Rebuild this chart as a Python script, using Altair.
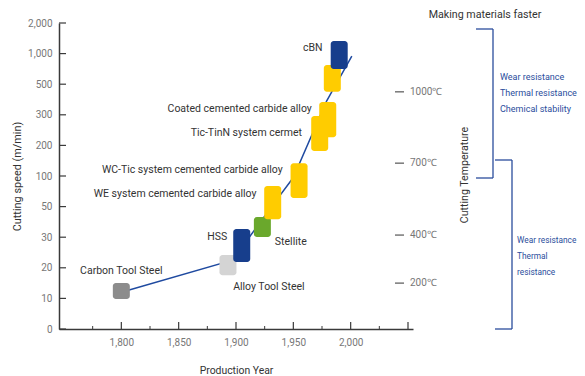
import altair as alt
import pandas as pd

# ---- data ----
materials = ["Carbon Tool Steel", "Alloy Tool Steel", "HSS", "Stellite",
             "WE system cemented carbide alloy", "WC-Tic system cemented carbide alloy",
             "Tic-TinN system cermet", "Coated cemented carbide alloy", "Ceramics", "cBN"]
years = [1800, 1893, 1905, 1923, 1932, 1955, 1973, 1980, 1984, 1990]
# cutting-speed ranges on the (ordinal-spaced) speed axis, in tick-index units
speed_lo = [0.98, 1.76, 2.19, 3.01, 3.59, 4.28, 5.82, 6.27, 7.75, 8.50]
speed_hi = [1.50, 2.42, 3.27, 3.66, 4.67, 5.42, 6.96, 7.42, 8.63, 9.41]
box_colors = ["#8c8c8c", "#d4d4d4", "#173e8c", "#6aa82c", "#ffcc00",
              "#ffcc00", "#ffcc00", "#ffcc00", "#ffcc00", "#173e8c"]

speed_labels = ["0", "10", "20", "30", "50", "100", "200", "300", "500", "1,000", "2,000"]
speed_index = list(range(len(speed_labels)))

major_years = [1800, 1850, 1900, 1950, 2000, 2050]
minor_years = [1775, 1825, 1875, 1925, 1975, 2025]
label_years = [1800, 1850, 1900, 1950, 2000]

line_years = [1800, 1897, 1932, 1950, 1979, 2001]
line_speed = [1.2, 2.25, 4.05, 4.95, 7.45, 8.92]

temp_labels = ["200℃", "400℃", "700℃", "1000℃"]
temp_pos = [1.5, 3.07, 5.42, 7.75]

# material name labels: anchor (year, speed index) and alignment
lab_text = ["Carbon Tool Steel", "Alloy Tool Steel", "HSS", "Stellite",
            "WE system cemented carbide alloy", "WC-Tic system cemented carbide alloy",
            "Tic-TinN system cermet", "Coated cemented carbide alloy", "cBN"]
lab_year = [1800, 1897.5, 1892.4, 1933.9, 1917.8, 1940.7, 1957.6, 1966.1, 1975.4]
lab_speed = [1.90, 1.37, 3.01, 2.84, 4.41, 5.20, 6.41, 7.19, 9.18]
lab_align = ["center", "left", "right", "left", "right", "right", "right", "right", "right"]

FONT = "Roboto"
W, H = 354, 306

boxes = pd.DataFrame({"material": materials, "year": years, "lo": speed_lo,
                      "hi": speed_hi, "color": box_colors,
                      "order": list(range(len(materials)))})
line_df = pd.DataFrame({"year": line_years, "speed": line_speed})
labels_df = pd.DataFrame({"text": lab_text, "year": lab_year, "speed": lab_speed, "align": lab_align})
temp_df = pd.DataFrame({"t": temp_labels, "speed": temp_pos})
ytick_df = pd.DataFrame({"speed": speed_index})
major_df = pd.DataFrame({"year": major_years})
minor_df = pd.DataFrame({"year": minor_years})
one = pd.DataFrame({"a": [0]})

xscale = alt.Scale(domain=[1750, 2050], nice=False, zero=False)
yscale = alt.Scale(domain=[0, 10], nice=False, zero=False)

label_expr = "[" + ",".join("'%s'" % s for s in speed_labels) + "][datum.value]"

x_axis = alt.Axis(values=label_years, format=",d", ticks=False, tickSize=0, grid=False,
                  labelFont=FONT, labelFontSize=10, labelColor="#777777", labelPadding=8,
                  labelOverlap=False,
                  domainColor="#3a3a3a", domainWidth=1.5, title="Production Year",
                  titleFont=FONT, titleFontSize=10.4, titleFontWeight="normal",
                  titleColor="#333333", titlePadding=18)
y_axis = alt.Axis(values=speed_index, labelExpr=label_expr, ticks=False, tickSize=0, grid=False,
                  labelFont=FONT, labelFontSize=10, labelColor="#777777", labelPadding=7,
                  labelOverlap=False, tickCount=11,
                  domainColor="#3a3a3a", domainWidth=1.5, title="Cutting speed (m/min)",
                  titleFont=FONT, titleFontSize=10.9, titleFontWeight="normal",
                  titleColor="#333333", titlePadding=5)


def X(f):
    return alt.X(f, scale=xscale, axis=x_axis)


def Y(f):
    return alt.Y(f, scale=yscale, axis=y_axis)


ytick_layer = alt.Chart(ytick_df).mark_rule(color="#3a3a3a", strokeWidth=1.2).encode(
    y=Y("speed:Q"), x=alt.value(0), x2=alt.value(7))

major_layer = alt.Chart(major_df).mark_rule(color="#3a3a3a", strokeWidth=1.2).encode(
    x=X("year:Q"), y=alt.value(H), y2=alt.value(H - 7))
minor_layer = alt.Chart(minor_df).mark_rule(color="#3a3a3a", strokeWidth=1).encode(
    x=X("year:Q"), y=alt.value(H), y2=alt.value(H - 3))

line_layer = alt.Chart(line_df).mark_line(color="#1f4aa0", strokeWidth=1.5).encode(
    x=X("year:Q"), y=Y("speed:Q"))

box_layer = alt.Chart(boxes).mark_bar(size=17, cornerRadius=3).encode(
    x=X("year:Q"), y=Y("lo:Q"), y2="hi:Q",
    color=alt.Color("color:N", scale=None), order="order:Q")

text_layers = []
for al in ["left", "center", "right"]:
    text_layers.append(
        alt.Chart(labels_df).transform_filter(alt.datum.align == al).mark_text(
            align=al, baseline="middle", font=FONT, fontSize=10.5, color="#333333").encode(
            x=X("year:Q"), y=Y("speed:Q"), text="text:N"))

temp_tick = alt.Chart(temp_df).mark_rule(color="#555555", strokeWidth=1.2).encode(
    y=Y("speed:Q"), x=alt.value(336), x2=alt.value(345))
temp_text = alt.Chart(temp_df).mark_text(align="left", baseline="middle", font=FONT,
                                         fontSize=10, color="#777777").encode(
    y=Y("speed:Q"), x=alt.value(351), text="t:N")

BLUE = "#2a4d9c"


def rule(x, y, x2=None, y2=None):
    enc = {"x": alt.value(x), "y": alt.value(y)}
    if x2 is not None:
        enc["x2"] = alt.value(x2)
    if y2 is not None:
        enc["y2"] = alt.value(y2)
    return alt.Chart(one).mark_rule(color=BLUE, strokeWidth=1.3).encode(**enc)


def txt(s, x, y, color="#333333", size=10.6, angle=0, align="left"):
    return alt.Chart(one).mark_text(text=s, align=align, baseline="middle", font=FONT,
                                    fontSize=size, color=color, angle=angle).encode(
        x=alt.value(x), y=alt.value(y))


ann = [
    rule(417, 6, x2=434), rule(434, 6, y2=155), rule(417, 155, x2=434),
    rule(436, 137, x2=453), rule(453, 137, y2=306), rule(436, 306, x2=453),
    txt("Making materials faster", 426, -8, align="center", size=10.7),
    txt("Cutting Temperature", 406, 152, align="center", angle=270, size=10.6),
    txt("Wear resistance", 441, 54, color=BLUE, size=9),
    txt("Thermal resistance", 441, 70, color=BLUE, size=9),
    txt("Chemical stability", 441, 86, color=BLUE, size=9),
    txt("Wear resistance", 458, 218, color=BLUE, size=8.3),
    txt("Thermal", 458, 234, color=BLUE, size=8.3),
    txt("resistance", 458, 250, color=BLUE, size=8.3),
]

chart = alt.layer(
    ytick_layer, major_layer, minor_layer, line_layer, box_layer, *text_layers,
    temp_tick, temp_text, *ann
).properties(
    width=W, height=H,
    autosize=alt.AutoSizeParams(type="none"),
    padding={"left": 51, "top": 15, "right": 164, "bottom": 47},
).configure_view(stroke=None)

chart.save("out.html", embed_options={"renderer": "svg", "actions": False})
